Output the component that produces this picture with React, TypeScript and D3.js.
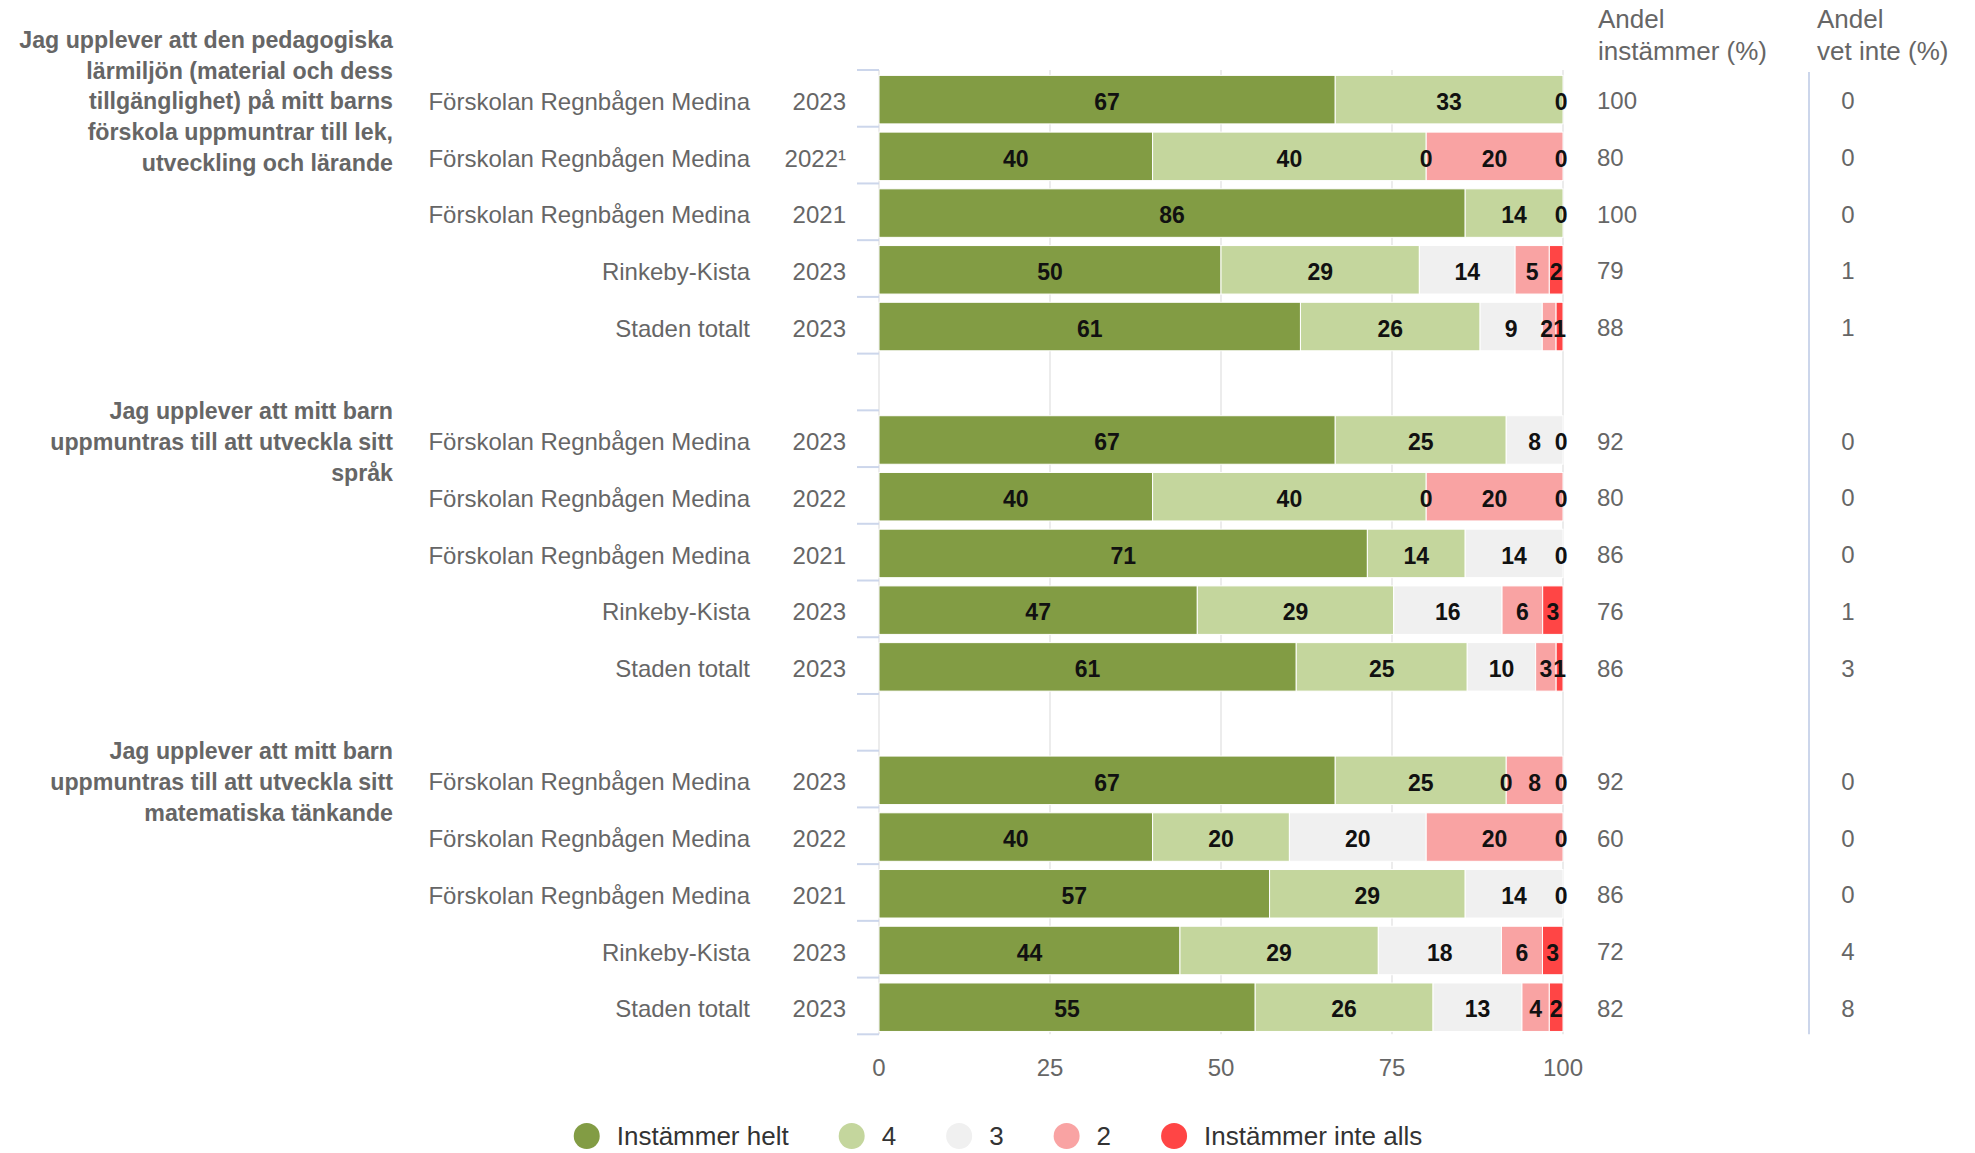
import React, { useEffect, useRef } from "react";
import * as d3 from "d3";

const groupTitles: string[][] = [
  ["Jag upplever att den pedagogiska", "lärmiljön (material och dess", "tillgänglighet) på mitt barns", "förskola uppmuntrar till lek,", "utveckling och lärande"],
  ["Jag upplever att mitt barn", "uppmuntras till att utveckla sitt", "språk"],
  ["Jag upplever att mitt barn", "uppmuntras till att utveckla sitt", "matematiska tänkande"],
];
const units = ["Förskolan Regnbågen Medina", "Förskolan Regnbågen Medina", "Förskolan Regnbågen Medina", "Rinkeby-Kista", "Staden totalt"];
const years: string[][] = [
  ["2023", "2022¹", "2021", "2023", "2023"],
  ["2023", "2022", "2021", "2023", "2023"],
  ["2023", "2022", "2021", "2023", "2023"],
];
const seriesNames = ["Instämmer helt", "4", "3", "2", "Instämmer inte alls"];
const seriesColors = ["#829c44", "#c4d69d", "#f0f0f0", "#f9a3a3", "#ff4545"];

const instHelt = [66.7, 40, 85.7, 50, 61, 66.7, 40, 71.4, 47, 61, 66.7, 40, 57.1, 44, 55];
const four = [33.3, 40, 14.3, 29, 26, 25, 40, 14.3, 29, 25, 25, 20, 28.6, 29, 26];
const three = [0, 0, 0, 14, 9, 8.3, 0, 14.3, 16, 10, 0, 20, 14.3, 18, 13];
const two = [0, 20, 0, 5, 2, 0, 20, 0, 6, 3, 8.3, 20, 0, 6, 4];
const instInte = [0, 0, 0, 2, 1, 0, 0, 0, 3, 1, 0, 0, 0, 3, 2];
const andelInst = [100, 80, 100, 79, 88, 92, 80, 86, 76, 86, 92, 60, 86, 72, 82];
const andelVetInte = [0, 0, 0, 1, 1, 0, 0, 0, 1, 3, 0, 0, 0, 4, 8];

const xTicks = [0, 25, 50, 75, 100];
const headerInst = ["Andel", "instämmer (%)"];
const headerVet = ["Andel", "vet inte (%)"];

const FONT = "'Liberation Sans', Arial, Helvetica, sans-serif";

export default function App() {
  const ref = useRef<SVGSVGElement>(null);

  useEffect(() => {
    const svg = d3.select(ref.current);
    svg.selectAll("*").remove();
    svg.attr("font-family", FONT);

    const plotL = 879, plotR = 1563, plotT = 70, plotB = 1034.3;
    const x = d3.scaleLinear().domain([0, 100]).range([plotL, plotR]);
    const nSlots = groupTitles.length * 6 - 1;
    const y = d3.scaleBand<number>().domain(d3.range(nSlots)).range([plotT, plotB]).padding(0);
    const step = y.step();
    const barTop = (i: number) => (y(i) as number) + step * 0.095;
    const barH = step * 0.855;
    const rowC = (i: number) => barTop(i) + barH / 2;

    const series = [instHelt, four, three, two, instInte];
    const rows = d3.range(15).map((k) => {
      const g = Math.floor(k / 5), r = k % 5;
      return {
        g, r, slot: g * 6 + r,
        unit: units[r], year: years[g][r],
        values: series.map((s) => s[k]),
        inst: andelInst[k], vet: andelVetInte[k],
      };
    });

    // gridlines
    svg.append("g").selectAll("line").data(xTicks).join("line")
      .attr("x1", (d) => x(d)).attr("x2", (d) => x(d))
      .attr("y1", plotT).attr("y2", plotB)
      .attr("stroke", "#e6e6e6").attr("stroke-width", 1.5);

    // left category ticks
    svg.append("g").selectAll("line").data(d3.range(nSlots + 1)).join("line")
      .attr("x1", plotL - 22).attr("x2", plotL)
      .attr("y1", (d) => plotT + d * step).attr("y2", (d) => plotT + d * step)
      .attr("stroke", "#ccd6eb").attr("stroke-width", 2);

    // right separator line
    svg.append("line").attr("x1", 1809).attr("x2", 1809).attr("y1", plotT + 2).attr("y2", plotB)
      .attr("stroke", "#ccd6eb").attr("stroke-width", 2);

    // bars
    const barG = svg.append("g");
    rows.forEach((row) => {
      const total = d3.sum(row.values);
      let cum = 0;
      const segs = row.values.map((v, i) => {
        const s = { i, v, x0: x((cum / total) * 100), x1: x(((cum + v) / total) * 100) };
        cum += v;
        return s;
      });
      barG.append("g").selectAll("rect").data(segs.filter((s) => s.v > 0)).join("rect")
        .attr("x", (s) => s.x0).attr("width", (s) => Math.max(0, s.x1 - s.x0))
        .attr("y", barTop(row.slot)).attr("height", barH)
        .attr("fill", (s) => seriesColors[s.i])
        .attr("stroke", "#ffffff").attr("stroke-width", 1);

      // data labels
      const fs = 23;
      const seen = new Set<string>();
      const labels: { cx: number; w: number; t: string }[] = [];
      segs.forEach((s) => {
        const t = String(Math.round(s.v));
        if (Math.round(s.v) === 0) {
          const key = s.x0.toFixed(2);
          if (seen.has(key)) return;
          seen.add(key);
        }
        labels.push({ cx: (s.x0 + s.x1) / 2, w: t.length * 0.556 * fs, t });
      });
      labels.forEach((l) => { l.cx = Math.min(l.cx, plotR + 4.5 - l.w / 2); });
      for (let i = labels.length - 2; i >= 0; i--) {
        const a = labels[i], b = labels[i + 1];
        if (a.cx + a.w / 2 > b.cx - b.w / 2) a.cx = b.cx - b.w / 2 - a.w / 2;
      }
      barG.append("g").selectAll("text").data(labels).join("text")
        .attr("x", (l) => l.cx).attr("y", rowC(row.slot) + 2).attr("dy", "0.36em")
        .attr("text-anchor", "middle").attr("font-size", fs).attr("font-weight", "bold")
        .attr("fill", "#111").text((l) => l.t);

      // category + year labels
      svg.append("text").attr("x", 750).attr("y", rowC(row.slot) + 1.5).attr("dy", "0.36em")
        .attr("text-anchor", "end").attr("font-size", 24).attr("fill", "#666").text(row.unit);
      svg.append("text").attr("x", 846).attr("y", rowC(row.slot) + 1.5).attr("dy", "0.36em")
        .attr("text-anchor", "end").attr("font-size", 24).attr("fill", "#666").text(row.year);

      // right columns
      svg.append("text").attr("x", 1597).attr("y", rowC(row.slot) + 1).attr("dy", "0.36em")
        .attr("text-anchor", "start").attr("font-size", 24).attr("fill", "#666").text(row.inst);
      svg.append("text").attr("x", 1848).attr("y", rowC(row.slot) + 1).attr("dy", "0.36em")
        .attr("text-anchor", "middle").attr("font-size", 24).attr("fill", "#666").text(row.vet);
    });

    // group titles
    groupTitles.forEach((lines, g) => {
      const c = rowC(g * 6) + 1.5;
      const lh = 30.7;
      const y0 = c - ((lines.length - 1) * lh) / 2;
      svg.append("g").selectAll("text").data(lines).join("text")
        .attr("x", 393).attr("y", (_, i) => y0 + i * lh).attr("dy", "0.36em")
        .attr("text-anchor", "end").attr("font-size", 23.2).attr("font-weight", "bold")
        .attr("fill", "#666").text((d) => d);
    });

    // headers
    [[headerInst, 1598], [headerVet, 1817]].forEach(([lines, hx]) => {
      (lines as string[]).forEach((t, i) => {
        svg.append("text").attr("x", hx as number).attr("y", 19 + i * 32).attr("dy", "0.36em")
          .attr("font-size", 26).attr("fill", "#666").text(t);
      });
    });

    // x axis labels
    svg.append("g").selectAll("text").data(xTicks).join("text")
      .attr("x", (d) => x(d)).attr("y", 1067).attr("dy", "0.36em")
      .attr("text-anchor", "middle").attr("font-size", 24).attr("fill", "#666").text((d) => d);

    // legend
    const legG = svg.append("g");
    const r = 13, txtOff = 30, itemDist = 50, lfs = 26;
    const items = seriesNames.map((n, i) => {
      const g = legG.append("g");
      g.append("circle").attr("cx", 0).attr("cy", 0).attr("r", r).attr("fill", seriesColors[i]);
      const t = g.append("text").attr("x", txtOff).attr("y", 0).attr("dy", "0.36em")
        .attr("font-size", lfs).attr("fill", "#333").text(n);
      const w = (t.node() as SVGTextElement).getComputedTextLength();
      return { g, width: r + txtOff + w };
    });
    const totalW = d3.sum(items, (it) => it.width) + itemDist * (items.length - 1);
    let lx = 998 - totalW / 2;
    items.forEach((it) => {
      it.g.attr("transform", `translate(${lx + r},1136)`);
      lx += it.width + itemDist;
    });
  }, []);

  return (
    <svg
      ref={ref}
      width={1975}
      height={1153}
      style={{ position: "absolute", left: 0, top: 0, background: "#fff" }}
    />
  );
}
